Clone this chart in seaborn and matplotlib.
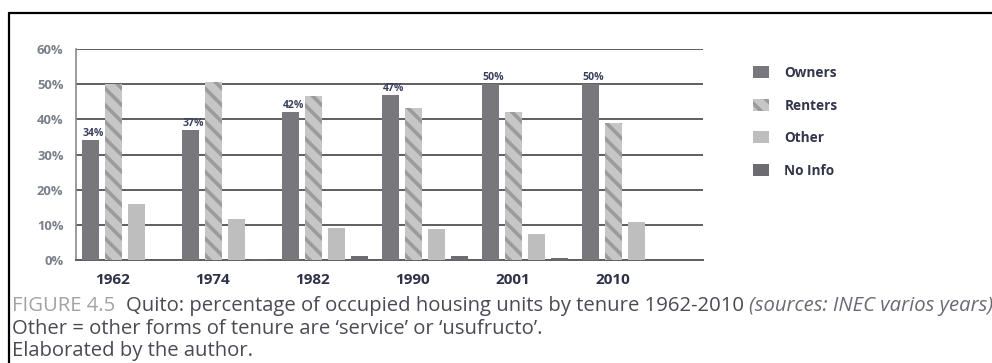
import numpy as np
import pandas as pd
import matplotlib
matplotlib.use("Agg")
import matplotlib.pyplot as plt
from matplotlib.lines import Line2D
from matplotlib.ticker import PercentFormatter
import seaborn as sns

# Census years and tenure shares (% of occupied housing units)
years = ["1962", "1974", "1982", "1990", "2001", "2010"]
tenures = ["Owners", "Renters", "Other", "No Info"]
owners = [34, 37, 42, 47, 50, 50]
renters = [50.0, 50.7, 46.7, 43.1, 42.1, 38.9]
other = [15.8, 11.7, 9.2, 8.8, 7.5, 10.9]
no_info = [0.0, 0.4, 1.2, 1.2, 0.6, 0.0]
owner_labels = ["34%", "37%", "42%", "47%", "50%", "50%"]
y_ticks = [0, 10, 20, 30, 40, 50, 60]

caption_tag = "FIGURE 4.5"
caption_main = "Quito: percentage of occupied housing units by tenure 1962-2010 "
caption_src = "(sources: INEC varios years)"
note_line = "Other = other forms of tenure are \u2018service\u2019 or \u2018usufructo\u2019."
author_line = "Elaborated by the author."

df = pd.DataFrame({
    "year": np.repeat(years, len(tenures)),
    "tenure": tenures * len(years),
    "share": np.ravel(np.column_stack([owners, renters, other, no_info])),
})

sns.set_theme(style="white")
plt.rcParams["font.family"] = ["Open Sans", "DejaVu Sans"]
plt.rcParams["hatch.linewidth"] = 2.6

W, H = 992, 363
fig = plt.figure(figsize=(W / 100, H / 100), dpi=100)
ax = fig.add_axes([76 / W, 1 - 260 / H, (703 - 76) / W, (260 - 49) / H])

palette = {"Owners": "#78787c", "Renters": "#c6c6c6",
           "Other": "#bebebe", "No Info": "#6c6c71"}
sns.barplot(data=df, x="year", y="share", hue="tenure", hue_order=tenures,
            order=years, palette=palette, width=0.92, gap=0.26,
            saturation=1, linewidth=0, legend=False, ax=ax, zorder=3)

# diagonal stripes on the renters bars
for bar in ax.containers[1]:
    bar.set_hatch(r"\\")
    bar.set_edgecolor("#9b9b9b")
    bar.set_linewidth(0)

# value labels above the owners bars
for bar, lab in zip(ax.containers[0], owner_labels):
    ax.text(bar.get_x() + bar.get_width() / 2 + 0.03, bar.get_height() + 0.3, lab,
            ha="center", va="bottom", fontsize=7.6, fontweight="bold",
            color="#3a3f5c", zorder=4)

ax.set_ylim(0, 60)
ax.set_xlim(-0.4875, 5.78)
ax.set_yticks(y_ticks)
ax.yaxis.set_major_formatter(PercentFormatter(decimals=0))
ax.set_xticks(np.arange(len(years)) - 0.12, labels=years)
ax.set_xlabel("")
ax.set_ylabel("")
ax.tick_params(axis="y", length=0, pad=9, labelsize=9.4, labelcolor="#7a808a")
ax.tick_params(axis="x", length=0, pad=9, labelsize=11, labelcolor="#2e3148")
for t in ax.get_yticklabels() + ax.get_xticklabels():
    t.set_fontweight("bold")

ax.yaxis.grid(True, color="#5e5e5e", linewidth=1.4, zorder=0)
ax.set_axisbelow(True)
for side in ["top", "right"]:
    ax.spines[side].set_visible(False)
ax.spines["left"].set_color("#8a8a8a")
ax.spines["left"].set_linewidth(1.2)
ax.spines["bottom"].set_color("#5e5e5e")
ax.spines["bottom"].set_linewidth(1.4)

# legend to the right of the plot
handles = [ax.containers[i][1] for i in range(len(tenures))]
fig.legend(handles, tenures, loc="upper left", bbox_to_anchor=(753 / W, 1 - 66 / H),
           frameon=False, labelspacing=1.36, handlelength=1.15,
           handleheight=1.0, handletextpad=1.15, borderaxespad=0, borderpad=0,
           prop={"weight": "bold", "size": 9.8})
leg = fig.legends[0]
for txt in leg.get_texts():
    txt.set_color("#33354a")

# frame around the figure block
fig.add_artist(Line2D([9 / W, 9 / W], [0, 1 - 13 / H], color="black", lw=1.6,
                      transform=fig.transFigure))
fig.add_artist(Line2D([9 / W, 1], [1 - 13 / H, 1 - 13 / H], color="black", lw=1.6,
                      transform=fig.transFigure))

# caption
cap_size = 14.6
t1 = fig.text(12 / W, 1 - 306 / H, caption_tag + "  ", fontsize=cap_size,
              color="#a2a2a6", va="center")
t2 = plt.annotate(caption_main, xy=(1, 0), xycoords=t1, va="bottom",
                  fontsize=cap_size, color="#4a4a55")
plt.annotate(caption_src, xy=(1, 0), xycoords=t2, va="bottom",
             fontsize=cap_size, color="#6a6a75", style="italic")
fig.text(12 / W, 1 - 329 / H, note_line, fontsize=cap_size, color="#4a4a55", va="center")
fig.text(12 / W, 1 - 351 / H, author_line, fontsize=cap_size, color="#4a4a55", va="center")

fig.savefig("out.png", dpi=100)
